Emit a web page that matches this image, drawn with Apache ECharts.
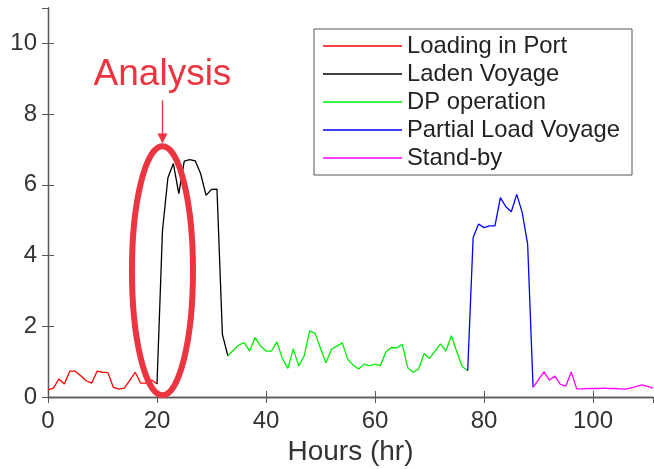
<!DOCTYPE html>
<html>
<head>
<meta charset="utf-8">
<script src="https://cdn.jsdelivr.net/npm/echarts@6/dist/echarts.min.js"></script>
<style>
  html, body { margin: 0; padding: 0; background: #fff; }
  #chart { width: 654px; height: 469px; }
</style>
</head>
<body>
<div id="chart"></div>
<script>
// hourly samples, each phase starts at the hour given
const phaseNames = ['Loading in Port', 'Laden Voyage', 'DP operation', 'Partial Load Voyage', 'Stand-by'];
const phaseColors = ['#ff0000', '#000000', '#00ee00', '#0000ff', '#ff00ff'];
const phaseStart = [0, 20, 33, 77, 89];

const loadingVals = [0.2, 0.25, 0.51, 0.37, 0.73, 0.73, 0.6, 0.46, 0.39, 0.73, 0.7,
  0.69, 0.27, 0.22, 0.25, 0.47, 0.7, 0.39, 0.39, 0.48, 0.37];
const ladenVals = [0.37, 4.7, 6.2, 6.6, 5.75, 6.67, 6.71, 6.68, 6.32, 5.7, 5.87, 5.88, 1.77, 1.16];
const dpVals = [1.16, 1.32, 1.47, 1.54, 1.3, 1.68, 1.44, 1.3, 1.3, 1.56,
  1.09, 0.81, 1.36, 0.88, 1.16, 1.87, 1.8, 1.37, 0.97, 1.35,
  1.44, 1.53, 1.06, 0.9, 0.79, 0.93, 0.88, 0.93, 0.89, 1.28,
  1.4, 1.39, 1.49, 0.83, 0.7, 0.79, 1.23, 1.09, 1.3, 1.5,
  1.3, 1.73, 1.28, 0.86, 0.74];
const partialVals = [0.74, 4.51, 4.89, 4.79, 4.84, 4.84, 5.64, 5.38, 5.24, 5.73, 5.22, 4.32, 0.27];
const standbyVals = [0.27, 0.49, 0.71, 0.48, 0.59, 0.36, 0.31, 0.71, 0.23, 0.23, 0.24, 0.24,
  0.24, 0.25, 0.24, 0.24, 0.23, 0.22, 0.26, 0.3, 0.34, 0.3, 0.25];

const xTicks = [0, 20, 40, 60, 80, 100];
const yTicks = [0, 2, 4, 6, 8, 10];

// annotation, in data units
const noteText = 'Analysis';
const noteEllipse = { x: 21, y: 3.57, rx: 5.6, ry: 3.52 };
const noteArrow = { x: 21, from: 8.39, to: 7.17 };
const noteLabelY = 8.6;

const phaseVals = [loadingVals, ladenVals, dpVals, partialVals, standbyVals];
const labelFont = "'Liberation Sans', Arial, sans-serif";
const axisColor = '#5a5a5a';
const noteColor = '#ec3540';

const chart = echarts.init(document.getElementById('chart'));

const series = phaseNames.map((name, i) => ({
  name: name,
  type: 'line',
  symbol: 'none',
  animation: false,
  lineStyle: { color: phaseColors[i], width: 1.3 },
  itemStyle: { color: phaseColors[i] },
  data: phaseVals[i].map((v, k) => [phaseStart[i] + k, v])
}));

const baseX = {
  type: 'value', min: 0, max: 111, interval: 20,
  axisLine: { lineStyle: { color: axisColor, width: 1.3 } },
  axisTick: { inside: true, length: 6, lineStyle: { color: axisColor } },
  splitLine: { show: false }
};
const baseY = {
  type: 'value', min: 0, max: 11, interval: 2,
  axisLine: { lineStyle: { color: axisColor, width: 1.3 } },
  axisTick: { inside: true, length: 6, lineStyle: { color: axisColor } },
  splitLine: { show: false }
};

chart.setOption({
  animation: false,
  grid: { left: 48, top: 8, right: 1, bottom: 72, outerBoundsMode: 'none' },
  legend: {
    orient: 'vertical',
    left: 314,
    top: 29,
    data: phaseNames,
    icon: 'rect',
    itemWidth: 79,
    itemHeight: 1.4,
    itemGap: 4,
    padding: [5, 12, 5, 9],
    borderColor: '#555',
    borderWidth: 1,
    backgroundColor: '#fff',
    textStyle: { fontFamily: labelFont, fontSize: 23.8, color: '#222' }
  },
  xAxis: [
    Object.assign({}, baseX, {
      position: 'bottom',
      name: 'Hours (hr)',
      nameLocation: 'middle',
      nameGap: 41,
      nameTextStyle: { fontFamily: labelFont, fontSize: 28, color: '#333' },
      axisLabel: {
        showMaxLabel: false, fontFamily: labelFont, fontSize: 24, color: '#333', margin: 12,
        formatter: v => (xTicks.includes(v) ? String(v) : '')
      }
    }),
    Object.assign({}, baseX, { position: 'top', axisLabel: { show: false } })
  ],
  yAxis: [
    Object.assign({}, baseY, {
      position: 'left',
      axisLabel: {
        showMaxLabel: false, fontFamily: labelFont, fontSize: 24, color: '#333', margin: 11,
        formatter: v => (yTicks.includes(v) ? String(v) : '')
      }
    }),
    Object.assign({}, baseY, { position: 'right', axisLabel: { show: false } })
  ],
  series: series
});

// place the annotation from data coordinates
const px = p => chart.convertToPixel({ gridIndex: 0 }, p);
const c = px([noteEllipse.x, noteEllipse.y]);
const e = px([noteEllipse.x + noteEllipse.rx, noteEllipse.y + noteEllipse.ry]);
const a0 = px([noteArrow.x, noteArrow.from]);
const a1 = px([noteArrow.x, noteArrow.to]);
const t = px([noteArrow.x, noteLabelY]);

chart.setOption({
  graphic: [
    {
      type: 'ellipse',
      shape: { cx: c[0], cy: c[1], rx: e[0] - c[0], ry: c[1] - e[1] },
      style: { fill: null, stroke: noteColor, lineWidth: 6 },
      z: 10
    },
    {
      type: 'line',
      shape: { x1: a0[0], y1: a0[1], x2: a1[0], y2: a1[1] - 8 },
      style: { stroke: noteColor, lineWidth: 1.3 },
      z: 10
    },
    {
      type: 'polygon',
      shape: { points: [[a1[0] - 5, a1[1] - 10], [a1[0] + 5, a1[1] - 10], [a1[0], a1[1]]] },
      style: { fill: noteColor },
      z: 10
    },
    {
      type: 'text',
      x: t[0],
      y: t[1],
      style: {
        text: noteText, fill: noteColor, fontFamily: labelFont, fontSize: 37,
        textAlign: 'center', textVerticalAlign: 'bottom'
      },
      z: 10
    }
  ]
});
</script>
</body>
</html>
